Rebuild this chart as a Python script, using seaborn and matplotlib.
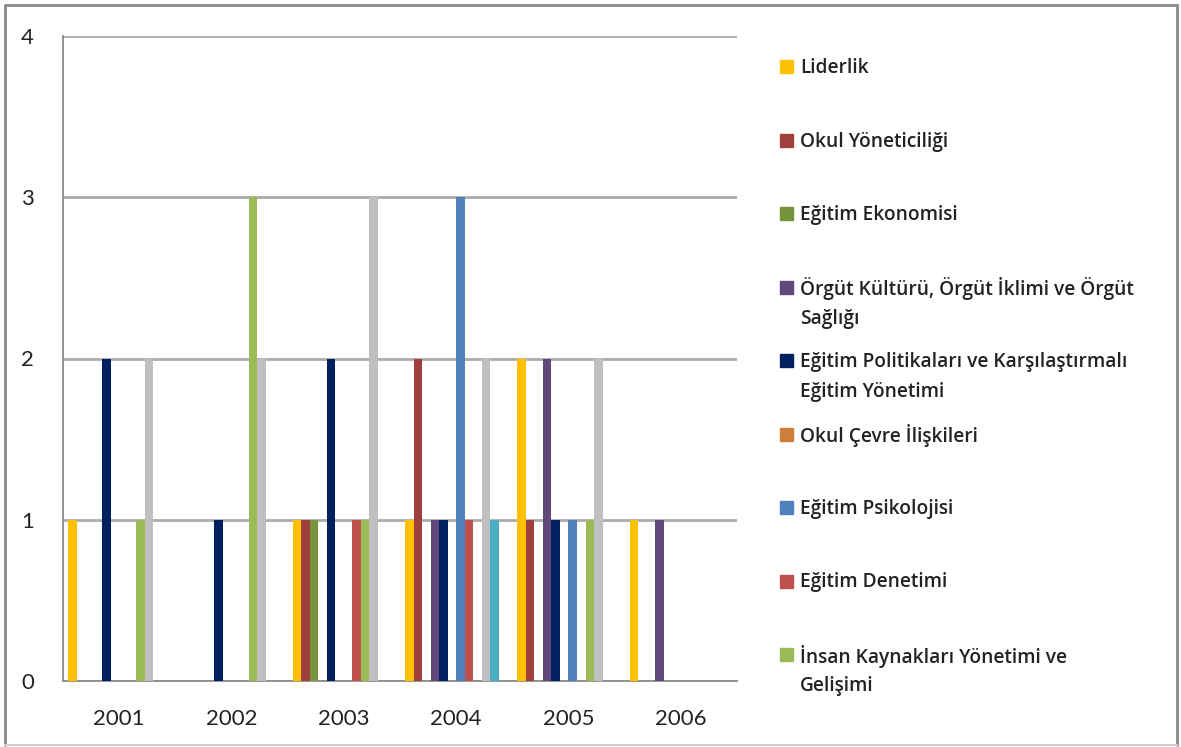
import matplotlib
matplotlib.use("Agg")
import matplotlib.pyplot as plt
from matplotlib.patches import Rectangle
from matplotlib.lines import Line2D
import seaborn as sns
import pandas as pd

# Publication counts per research field and year
years = ["2001", "2002", "2003", "2004", "2005", "2006"]

liderlik = [1, 0, 1, 1, 2, 1]
okul_yoneticiligi = [0, 0, 1, 2, 1, 0]
egitim_ekonomisi = [0, 0, 1, 0, 0, 0]
orgut_kulturu = [0, 0, 0, 1, 2, 1]
egitim_politikalari = [2, 1, 2, 1, 1, 0]
okul_cevre = [0, 0, 0, 0, 0, 0]
egitim_psikolojisi = [0, 0, 0, 3, 1, 0]
egitim_denetimi = [0, 0, 1, 1, 0, 0]
insan_kaynaklari = [1, 3, 1, 0, 1, 0]
seri_10 = [2, 2, 3, 2, 2, 0]
seri_11 = [0, 0, 0, 1, 0, 0]
seri_12 = [0, 0, 0, 0, 0, 0]

series_names = [
    "Liderlik",
    "Okul Yöneticiliği",
    "Eğitim Ekonomisi",
    "Örgüt Kültürü, Örgüt İklimi ve Örgüt\nSağlığı",
    "Eğitim Politikaları ve Karşılaştırmalı\nEğitim Yönetimi",
    "Okul Çevre İlişkileri",
    "Eğitim Psikolojisi",
    "Eğitim Denetimi",
    "İnsan Kaynakları Yönetimi ve\nGelişimi",
    "Seri 10",
    "Seri 11",
    "Seri 12",
]
series_values = [
    liderlik, okul_yoneticiligi, egitim_ekonomisi, orgut_kulturu,
    egitim_politikalari, okul_cevre, egitim_psikolojisi, egitim_denetimi,
    insan_kaynaklari, seri_10, seri_11, seri_12,
]
colors = [
    "#FFC000", "#A0403C", "#77933C", "#60497A", "#002060", "#CD7F3A",
    "#4F81BD", "#C0504D", "#9BBB59", "#BFBFBF", "#4BACC6", "#F79646",
]
legend_count = 9

rows = []
for name, vals in zip(series_names, series_values):
    for y, v in zip(years, vals):
        rows.append({"Yıl": y, "Alan": name, "Sayı": v})
df = pd.DataFrame(rows)

sns.set_style("white")
plt.rcParams["font.family"] = ["Lato", "DejaVu Sans"]

W, H = 1181, 747
fig = plt.figure(figsize=(W / 100, H / 100), dpi=100)
ax = fig.add_axes([63 / W, 1 - 681 / H, (737 - 63) / W, (681 - 36) / H])

sns.barplot(
    data=df, x="Yıl", y="Sayı", hue="Alan",
    order=years, hue_order=series_names, palette=colors, saturation=1,
    width=0.91, linewidth=0, errorbar=None, legend=False, ax=ax, zorder=3,
)

ax.set_xlim(-0.5, len(years) - 0.5)
ax.set_ylim(0, 4)
ax.set_yticks([0, 1, 2, 3, 4])
ax.set_xlabel("")
ax.set_ylabel("")

grid_c = "#ABABAB"
ax.yaxis.grid(True, color=grid_c, linewidth=2, zorder=0)
ax.xaxis.grid(False)
for s in ["top", "right"]:
    ax.spines[s].set_visible(False)
for s in ["left", "bottom"]:
    ax.spines[s].set_color("#8C8C8C")
    ax.spines[s].set_linewidth(1.3)

# category boundary tick marks on the x axis
ax.set_xticks([i - 0.5 for i in range(len(years) + 1)], minor=True)
ax.tick_params(axis="x", which="minor", length=7, width=1.3, color="#8C8C8C")
ax.tick_params(axis="x", which="major", length=0, pad=20, labelsize=16, labelcolor="#222222")
ax.tick_params(axis="y", which="major", length=7, width=1.3, color="#8C8C8C",
               pad=14, labelsize=16, labelcolor="#222222")

# legend drawn as a column of coloured squares with wrapped labels
first_line_y = [67 + i * 73.5 for i in range(legend_count)]
for i in range(legend_count):
    yc = first_line_y[i]
    fig.add_artist(Rectangle((780 / W, 1 - (yc + 6) / H), 13 / W, 13 / H,
                             transform=fig.transFigure, color=colors[i]))
    for k, line in enumerate(series_names[i].split("\n")):
        fig.text(800 / W, 1 - (yc + 1 + k * 30.5) / H, line, ha="left", va="center",
                 fontsize=13.8, fontweight="semibold", color="#222222",
                 family=["Open Sans", "DejaVu Sans"])

# outer frame
frame_c = "#8A8A8A"
fig.add_artist(Line2D([5 / W, 1177 / W], [1 - 5 / H, 1 - 5 / H], color=frame_c, lw=2))
fig.add_artist(Line2D([5 / W, 5 / W], [1 - 5 / H, 1 - 745 / H], color=frame_c, lw=2))
fig.add_artist(Line2D([1177 / W, 1177 / W], [1 - 5 / H, 1 - 745 / H], color=frame_c, lw=2))
fig.add_artist(Line2D([5 / W, 1177 / W], [1 - 745 / H, 1 - 745 / H], color="#D0D0D0", lw=1.5))

fig.savefig("out.png", dpi=100)
